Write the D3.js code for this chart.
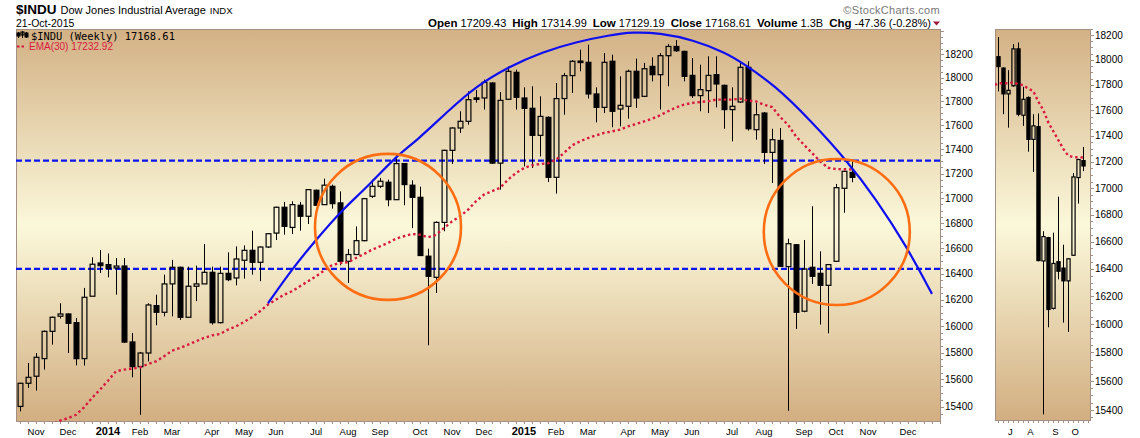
<!DOCTYPE html>
<html>
<head>
<meta charset="utf-8">
<script src="https://cdn.jsdelivr.net/npm/d3@7/dist/d3.min.js"></script>
<style>
body { margin: 0; background: #fff; }
svg { display: block; font-family: "Liberation Sans", Arial, sans-serif; }
</style>
</head>
<body>
<div class="canvas"></div>
<script>
// weekly bars, first bar = week of Mon 21-Oct-2013
var firstWeek = new Date(2013, 9, 21);

var opens = [15402,15572,15624,15755,15960,16075,16092,16026,15755,16228,
	16486,16473,16447,16462,15880,15695,15797,16156,16105,16323,
	16452,16067,16305,16323,16413,16026,16405,16369,16507,16585,
	16491,16611,16721,16927,16766,16943,16855,17064,16948,17096,
	16962,16499,16552,16661,17015,17096,17129,16988,17281,17105,
	17007,16539,16374,16806,17390,17575,17631,17827,17827,17954,
	17285,17816,18045,17827,17740,17514,17664,17169,17822,18017,
	18140,18131,17861,17748,18140,17734,17757,18054,17841,18096,
	18025,18188,18268,18225,18019,17847,17889,18025,17934,17729,
	17793,18088,17561,17700,17373,17472,16457,16629,16113,16452,
	16405,16312,16499,17080,17209.43];
var highs = [15575,15723,15797,15966,16072,16174,16097,16062,16292,16530,
	16587,16561,16525,16525,15948,15805,16174,16240,16395,16510,
	16457,16457,16465,16635,16457,16457,16569,16616,16624,16740,
	16616,16721,16932,16970,16975,16970,17074,17069,17158,17110,
	17055,16595,16774,17002,17150,17164,17150,17354,17286,17145,
	17093,16598,16814,17395,17581,17715,17884,17895,17983,17960,
	17878,18096,18068,17917,17926,17841,17672,17954,18039,18151,
	18240,18283,17917,18211,18197,18011,18068,18163,18126,18174,
	18211,18289,18323,18231,18168,18111,18183,18183,17940,17917,
	18126,18140,17785,17709,17569,17575,16677,16635,16666,16935,
	16577,16478,17115,17223,17314.99];
var lows = [15366,15537,15518,15673,15860,16057,15797,15705,15703,16228,
	16408,16374,16240,15872,15616,15341,15734,16006,16074,16074,
	16047,16067,16190,16323,16011,16020,16344,16312,16364,16395,
	16344,16603,16666,16708,16713,16740,16793,16940,16945,16916,
	16468,16331,16550,16656,17002,17083,16935,16985,16943,16760,
	16541,15855,16253,16735,17278,17534,17603,17788,17729,17281,
	17069,17813,17729,17258,17245,17340,17131,17037,17686,17870,
	18054,17822,17622,17700,17581,17589,17653,17743,17835,17968,
	17729,17926,18220,17968,17827,17715,17700,17748,17569,17464,
	17785,17553,17478,17278,17123,16455,15370,15978,16105,16323,
	16011,15945,16495,16883,17129.19];
var closes = [15572,15616,15765,15960,16067,16092,16021,15755,16220,16476,
	16465,16442,16462,15879,15695,15797,16161,16105,16323,16452,
	16067,16305,16323,16413,16026,16405,16356,16517,16585,16491,
	16611,16716,16927,16774,16948,16855,17069,16943,17105,16956,
	16499,16552,16661,16996,17096,17137,16988,17281,17110,17007,
	16544,16382,16806,17390,17575,17631,17813,17816,17960,17285,
	17807,18054,17833,17740,17514,17672,17169,17822,18017,18140,
	18131,17861,17748,18131,17715,17765,18054,17827,18076,18025,
	18188,18268,18231,18011,17847,17898,18019,17946,17729,17757,
	18088,17569,17686,17373,17478,16460,16637,16105,16439,16382,
	16312,16473,17085,17218,17168.61];
var ema30 = [15184,15201,15220,15244,15269,15298,15317,15341,15395,15464,
	15525,15591,15661,15673,15680,15690,15715,15735,15772,15815,
	15835,15860,15885,15910,15930,15940,15973,15998,16031,16067,
	16113,16164,16202,16240,16266,16305,16343,16382,16426,16468,
	16486,16491,16525,16556,16590,16616,16643,16677,16696,16714,
	16708,16687,16708,16761,16814,16854,16907,16975,17029,17056,
	17083,17150,17204,17245,17267,17278,17283,17313,17368,17431,
	17464,17492,17514,17534,17547,17561,17589,17608,17630,17653,
	17681,17715,17748,17771,17785,17793,17799,17813,17813,17813,
	17821,17805,17798,17770,17751,17668,17602,17505,17436,17368,
	17300,17247,17236,17235,17233];

// drawn annotations (week index, price)
var levels = [17305, 16440];
var arcWeeks = [31.0, 34.1, 37.2, 40.3, 43.3, 47.0, 49.5, 53.7, 57.0, 61.2, 65.3, 69.5,
	73.7, 76.6, 79.9, 84.1, 88.3, 90.3, 94.5, 98.7, 103.3, 107.0, 110.8, 114.0];
var arcPrices = [16174, 16447, 16682, 16908, 17083, 17341, 17464, 17729, 17926, 18097, 18220, 18307,
	18366, 18393, 18385, 18327, 18211, 18126, 17926, 17645, 17311, 16994, 16619, 16246];
var circleWeeks = [46.0, 102.1];
var circlePrices = [16770, 16730];

var yTicks = d3.range(15400, 18201, 200);
var headerItems = [["Open", "17209.43"], ["High", "17314.99"], ["Low", "17129.19"],
	["Close", "17168.61"], ["Volume", "1.3B"], ["Chg", "-47.36 (-0.28%)"]];

var W = 1140, H = 438;
var svg = d3.select('.canvas').append('svg').attr('width', W).attr('height', H);

var main = { left: 16, top: 29, right: 941, bottom: 422 };
var side = { left: 995, top: 29, right: 1091, bottom: 421 };

var x = d3.scaleLinear().domain([0, 104]).range([20, 852]);
var y = d3.scaleLog().domain([15400, 18200]).range([406.7, 54.3]);
var xs = d3.scaleLinear().domain([87, 104]).range([998.3, 1083.3]);
var ys = d3.scaleLog().domain([15400, 18200]).range([410, 35]);

var weekDate = function (i) { return d3.timeMonday.offset(firstWeek, i); };

// background gradient + clips
var defs = svg.append('defs');
var grad = defs.append('linearGradient').attr('id', 'bg')
	.attr('x1', 0).attr('y1', 0).attr('x2', 0).attr('y2', 1);
[[0, '#d3b185'], [0.5, '#fbf8da'], [1, '#d2ae81']].forEach(function (s) {
	grad.append('stop').attr('offset', s[0]).attr('stop-color', s[1]);
});
[['clipMain', main], ['clipSide', side]].forEach(function (c) {
	defs.append('clipPath').attr('id', c[0]).append('rect')
		.attr('x', c[1].left).attr('y', c[1].top)
		.attr('width', c[1].right - c[1].left).attr('height', c[1].bottom - c[1].top);
});

function panel(p) {
	svg.append('rect')
		.attr('x', p.left + 0.5).attr('y', p.top + 0.5)
		.attr('width', p.right - p.left - 1).attr('height', p.bottom - p.top - 1)
		.attr('fill', 'url(#bg)').attr('stroke', '#a48f84').attr('stroke-width', 1);
}
panel(main);
panel(side);

// axis minor ticks
function minorTicks(p, ysc) {
	var t = svg.append('g').attr('stroke', '#a48f84').attr('stroke-width', 1);
	d3.range(15350, 18451, 50).forEach(function (v) {
		var yy = Math.round(ysc(v)) + 0.5;
		if (yy < p.top || yy > p.bottom) return;
		t.append('line').attr('x1', p.right).attr('x2', p.right + (v % 200 === 0 ? 3 : 2))
			.attr('y1', yy).attr('y2', yy);
	});
}
minorTicks(main, y);
minorTicks(side, ys);
var bt = svg.append('g').attr('stroke', '#a48f84');
d3.range(0, 116).forEach(function (i) {
	var xx = Math.round(x(i)) + 0.5;
	if (xx > main.right) return;
	bt.append('line').attr('x1', xx).attr('x2', xx).attr('y1', main.bottom).attr('y2', main.bottom + 2);
});
d3.range(87, 106).forEach(function (i) {
	var xx = Math.round(xs(i)) + 0.5;
	if (xx > side.right) return;
	bt.append('line').attr('x1', xx).attr('x2', xx).attr('y1', side.bottom).attr('y2', side.bottom + 2);
});

// y labels
function yLabels(xpos, ysc) {
	svg.append('g').selectAll('text').data(yTicks).enter().append('text')
		.attr('x', xpos).attr('y', function (d) { return ysc(d) + 3.5; })
		.attr('font-size', 10).attr('fill', '#000')
		.text(function (d) { return d; });
}
yLabels(945, y);
yLabels(1095, ys);

// x labels (first week of each month)
var xl = svg.append('g');
d3.range(1, 116).forEach(function (i) {
	var d = weekDate(i), prev = weekDate(i - 1);
	if (d.getMonth() === prev.getMonth() || x(i) > main.right - 15) return;
	var isYear = d.getMonth() === 0;
	xl.append('text').attr('x', x(i)).attr('y', 435)
		.attr('text-anchor', 'middle')
		.attr('font-size', isYear ? 11 : 9.5)
		.attr('font-weight', isYear ? 'bold' : 'normal')
		.text(isYear ? d.getFullYear() : d3.timeFormat('%b')(d));
});
d3.range(88, 105).forEach(function (i) {
	var d = weekDate(i), prev = weekDate(i - 1);
	if (d.getMonth() === prev.getMonth()) return;
	xl.append('text').attr('x', xs(i) + 2).attr('y', 435)
		.attr('text-anchor', 'middle').attr('font-size', 9.5)
		.text(d3.timeFormat('%b')(d).charAt(0));
});

// candles
function drawCandles(g, xsc, ysc, from, bw) {
	d3.range(from, opens.length).forEach(function (i) {
		var o = opens[i], c = closes[i], h = highs[i], l = lows[i];
		var cx = Math.round(xsc(i)) + 0.5;
		var top = ysc(Math.max(o, c)), bot = ysc(Math.min(o, c));
		if (bot - top < 1.5) { var m = (top + bot) / 2; top = m - 0.75; bot = m + 0.75; }
		var up = c >= o;
		var wick = g.append('g').attr('stroke', '#000').attr('stroke-width', 1);
		if (up) {
			wick.append('line').attr('x1', cx).attr('x2', cx).attr('y1', ysc(h)).attr('y2', top);
			wick.append('line').attr('x1', cx).attr('x2', cx).attr('y1', bot).attr('y2', ysc(l));
		} else {
			wick.append('line').attr('x1', cx).attr('x2', cx).attr('y1', ysc(h)).attr('y2', ysc(l));
		}
		g.append('rect')
			.attr('x', cx - bw / 2).attr('y', top)
			.attr('width', bw).attr('height', bot - top)
			.attr('fill', up ? 'none' : '#000')
			.attr('stroke', '#000').attr('stroke-width', 1.2);
	});
}

var gm = svg.append('g').attr('clip-path', 'url(#clipMain)');
var gs = svg.append('g').attr('clip-path', 'url(#clipSide)');

// horizontal levels
gm.selectAll('line.level').data(levels).enter().append('line')
	.attr('class', 'level')
	.attr('x1', main.left).attr('x2', main.right)
	.attr('y1', function (d) { return y(d); }).attr('y2', function (d) { return y(d); })
	.attr('stroke', '#0a14f0').attr('stroke-width', 2.2).attr('stroke-dasharray', '6,3');

drawCandles(gm, x, y, 0, 4.8);
drawCandles(gs, xs, ys, 87, 3.2);

// EMA(30)
var emaLine = function (xsc, ysc) {
	return d3.line().x(function (d) { return xsc(d[0]); }).y(function (d) { return ysc(d[1]); });
};
var emaPts = ema30.map(function (v, i) { return [i, v]; });
gm.append('path').attr('d', emaLine(x, y)(emaPts))
	.attr('fill', 'none').attr('stroke', '#d9193f').attr('stroke-width', 2.4)
	.attr('stroke-dasharray', '2.5,2.8');
gs.append('path').attr('d', emaLine(xs, ys)([[86.3, ema30[86]]].concat(emaPts.slice(87))))
	.attr('fill', 'none').attr('stroke', '#d9193f').attr('stroke-width', 2.4)
	.attr('stroke-dasharray', '2.5,2.8');

// arc + circles
var arcPts = arcWeeks.map(function (w, i) { return [w, arcPrices[i]]; });
gm.append('path')
	.attr('d', d3.line().curve(d3.curveBasis)
		.x(function (d) { return x(d[0]); }).y(function (d) { return y(d[1]); })(arcPts))
	.attr('fill', 'none').attr('stroke', '#0f0ff0').attr('stroke-width', 2.2);
gm.selectAll('circle.ring').data(circleWeeks).enter().append('circle')
	.attr('class', 'ring')
	.attr('cx', function (d) { return x(d); })
	.attr('cy', function (d, i) { return y(circlePrices[i]); })
	.attr('r', 73)
	.attr('fill', 'none').attr('stroke', '#ff6d12').attr('stroke-width', 2.6);

// legend inside the chart
var icon = svg.append('g').attr('stroke', '#000').attr('stroke-width', 1);
[[18.5, 32, 38, 33, 36, true], [22.5, 31, 38, 32, 35, false], [26.5, 32, 38, 33, 37, true]].forEach(function (c) {
	icon.append('line').attr('x1', c[0]).attr('x2', c[0]).attr('y1', c[1]).attr('y2', c[2]);
	icon.append('rect').attr('x', c[0] - 1.5).attr('y', c[3]).attr('width', 3).attr('height', c[4] - c[3])
		.attr('fill', c[5] ? '#000' : 'none');
});
svg.append('text').attr('x', 31).attr('y', 40)
	.attr('font-family', '"DejaVu Sans Mono", monospace').attr('font-size', 10.4)
	.text('$INDU (Weekly) 17168.61');
svg.append('line').attr('x1', 17).attr('x2', 25).attr('y1', 46.5).attr('y2', 46.5)
	.attr('stroke', '#d9193f').attr('stroke-width', 2).attr('stroke-dasharray', '2.5,2');
svg.append('text').attr('x', 29).attr('y', 50).attr('font-size', 10).attr('fill', '#d9193f')
	.text('EMA(30) 17232.92');

// header
var t1 = svg.append('text').attr('x', 16).attr('y', 14);
t1.append('tspan').attr('font-size', 13.5).attr('font-weight', 'bold').text('$INDU');
t1.append('tspan').attr('font-size', 11).attr('dx', 4).text('Dow Jones Industrial Average');
t1.append('tspan').attr('font-size', 9.5).attr('dx', 4).text('INDX');
svg.append('text').attr('x', 16).attr('y', 26.5).attr('font-size', 10.5).text('21-Oct-2015');

svg.append('text').attr('x', 940).attr('y', 14).attr('text-anchor', 'end')
	.attr('font-size', 11).attr('fill', '#777').attr('letter-spacing', 0.3)
	.text('\u00a9StockCharts.com');

var t2 = svg.append('text').attr('x', 931).attr('y', 26.5).attr('text-anchor', 'end');
headerItems.forEach(function (h, i) {
	t2.append('tspan').attr('font-size', 11.5).attr('font-weight', 'bold')
		.attr('dx', i ? 6 : 0).text(h[0]);
	t2.append('tspan').attr('font-size', 11).attr('dx', 3).text(h[1]);
});
svg.append('path').attr('d', 'M933,21.5 L940,21.5 L936.5,25.5 Z').attr('fill', '#9c1a3c');
</script>
</body>
</html>
